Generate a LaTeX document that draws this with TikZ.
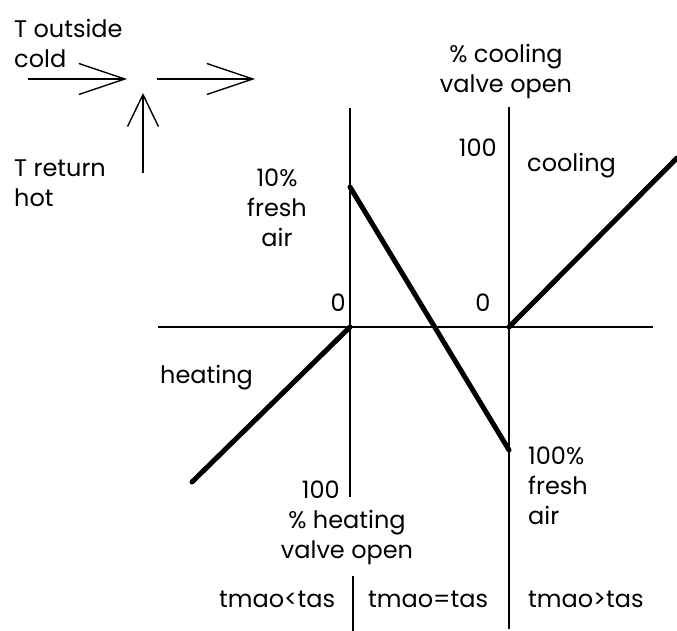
\documentclass[tikz,border=0pt]{standalone}
\usepackage{fontspec}
\setmainfont{Poppins}
\usepackage{tikz}
\usetikzlibrary{arrows.meta}

\begin{document}
\begin{tikzpicture}[x=1pt,y=-1pt,font=\fontsize{24}{30}\selectfont,
axis/.style={line width=2.4pt},
trend/.style={line width=5pt,line cap=round},
flow/.style={line width=1.4pt,-{Straight Barb[length=46pt,width=31pt,line width=1.4pt]}},
lab/.style={inner sep=0pt,align=center}]
\useasboundingbox (0,0) rectangle (677,631);
% axes
\coordinate (hL) at (158,327);
\coordinate (hR) at (653,327);
\coordinate (lT) at (350,108);
\coordinate (lB) at (350,497);
\coordinate (rT) at (509,107);
\coordinate (rB) at (509,629);
\coordinate (o1) at (350,327);
\coordinate (o2) at (509,327);
\coordinate (dT) at (353,576);
\coordinate (dB) at (353,631);
\draw[axis] (hL)--(hR);
\draw[axis] (lT)--(lB);
\draw[axis] (rT)--(rB);
\draw[line width=1.6pt] (dT)--(dB);
% curves
\coordinate (fa10) at (350,187);
\coordinate (fa100) at (509,450);
\coordinate (heat) at (192,482);
\coordinate (cool) at (677,158);
\draw[trend] (fa10)--(fa100);
\draw[trend] (o1)--(heat);
\draw[trend] (o2)--(cool);
% mixing arrows
\coordinate (out0) at (28,79);
\coordinate (out1) at (127,79);
\coordinate (mix0) at (157,79);
\coordinate (mix1) at (255,79);
\coordinate (ret0) at (143,173);
\coordinate (ret1) at (143,93);
\draw[flow] (out0)--(out1);
\draw[flow] (mix0)--(mix1);
\draw[flow,-{Straight Barb[length=32pt,width=31pt,line width=1.4pt]}] (ret0)--(ret1);
% labels
\node[lab,anchor=west,align=left] (tout) at (14,43) {T outside\\cold};
\node[lab,anchor=west,align=left] (tret) at (14,183) {T return\\hot};
\node[lab] (cv) at (506,71) {\% cooling\\valve open};
\node[lab,anchor=east] (c100) at (497,148) {100};
\node[lab,anchor=west] (clab) at (527,166) {cooling};
\node[lab] (fa10l) at (277,208) {10\%\\fresh\\air};
\node[lab,anchor=east] (z1) at (346,303) {0};
\node[lab] (z2) at (483,303) {0};
\node[lab,anchor=west] (hlab) at (160,378) {heating};
\node[lab,anchor=west,align=left] (fa100l) at (528,486) {100\%\\fresh\\air};
\node[lab,anchor=east] (h100) at (340,490) {100};
\node[lab] (hv) at (347,537) {\% heating\\valve open};
\node[lab,anchor=west] (lt) at (219,599) {tmao<tas};
\node[lab,anchor=west] (eq) at (368,599) {tmao=tas};
\node[lab,anchor=west] (gt) at (528,599) {tmao>tas};
\end{tikzpicture}
\end{document}
